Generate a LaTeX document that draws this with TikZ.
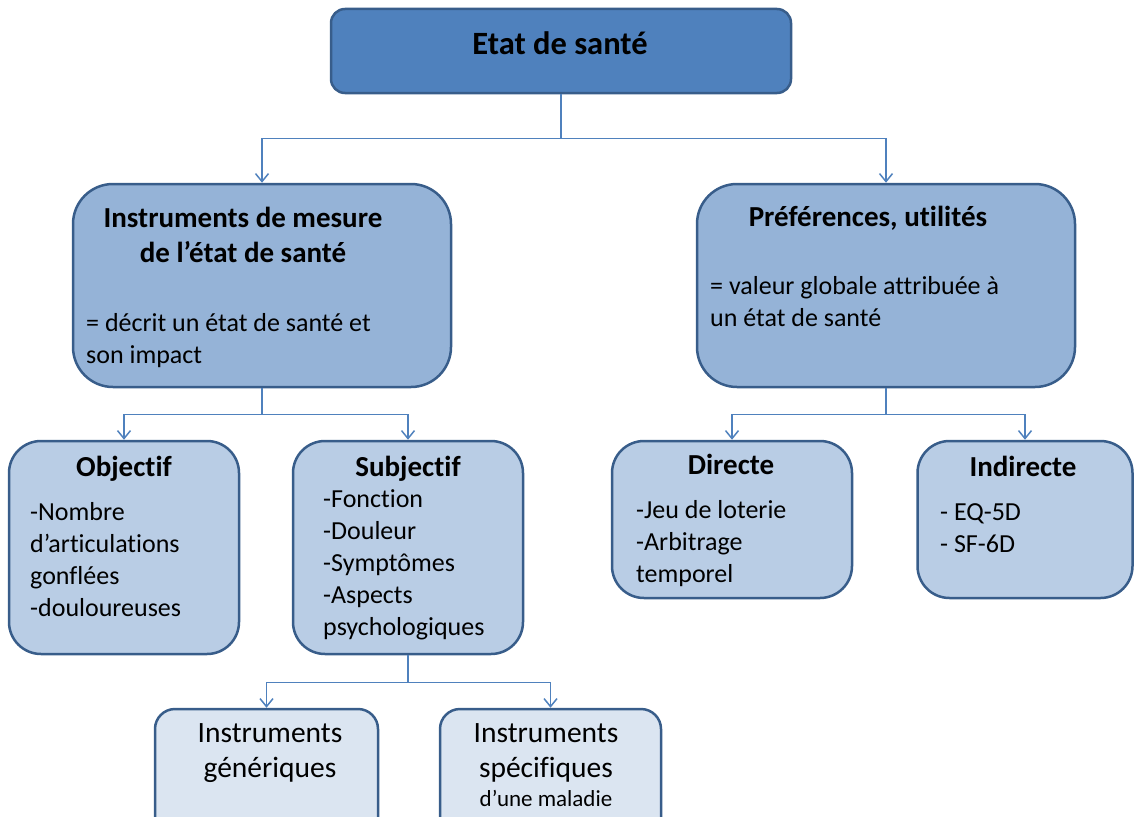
\documentclass[tikz,border=0pt]{standalone}
\usepackage{fontspec}
\setmainfont{Carlito}[Ligatures=NoCommon]
\usetikzlibrary{arrows.meta}

\definecolor{boxblue}{HTML}{4F81BD}
\definecolor{boxline}{HTML}{385D8A}
\definecolor{boxmid}{HTML}{95B3D7}
\definecolor{boxlight}{HTML}{B9CDE5}
\definecolor{boxpale}{HTML}{DBE5F1}

\tikzset{
	box/.style={draw=boxline, line width=2.5pt, inner sep=0pt},
	link/.style={draw=boxblue, line width=1.5pt, -{Straight Barb[length=8pt, width=13pt]}},
	title/.style={font=\bfseries\fontsize{29}{35}\selectfont, anchor=base, inner sep=0pt},
	head/.style={font=\bfseries\fontsize{29}{35}\selectfont, align=center, anchor=north, inner sep=0pt},
	body/.style={font=\fontsize{26}{32}\selectfont, align=left, anchor=north west, inner sep=0pt},
	lower/.style={font=\fontsize{29.5}{35}\selectfont, align=center, anchor=north, inner sep=0pt},
}

\begin{document}
\begin{tikzpicture}[x=1pt, y=-1pt]
	\useasboundingbox (0,0) rectangle (1134,816);
	\clip (0,0) rectangle (1134,816);

	%% Top box
	\node [box, fill=boxblue, rounded corners=14pt, minimum width=460pt, minimum height=84pt] (etat) at (561,51) {};
	\node [title, font=\bfseries\fontsize{32.5}{38}\selectfont] (t-etat) at (560,55) {Etat de santé};

	%% Second row
	\node [box, fill=boxmid, rounded corners=40pt, minimum width=378pt, minimum height=203pt] (mesure) at (262,285.5) {};
	\node [head] (t-mesure) at (243,202.5) {\strut Instruments de mesure\\de l’état de santé};
	\node [body] (d-mesure) at (86,308.6) {\strut= décrit un état de santé et\\son impact};

	\node [box, fill=boxmid, rounded corners=40pt, minimum width=378pt, minimum height=203pt] (pref) at (886,285.5) {};
	\node [title] (t-pref) at (868,226) {Préférences, utilités};
	\node [body] (d-pref) at (710,271.6) {\strut= valeur globale attribuée à\\un état de santé};

	%% Third row
	\node [box, fill=boxlight, rounded corners=32pt, minimum width=230pt, minimum height=213pt] (objectif) at (124,547.5) {};
	\node [title] (t-objectif) at (124,476) {Objectif};
	\node [body] (d-objectif) at (30,497.6) {\strut-Nombre\\d’articulations\\gonflées\\-douloureuses};

	\node [box, fill=boxlight, rounded corners=32pt, minimum width=230pt, minimum height=213pt] (subjectif) at (408,547.5) {};
	\node [title] (t-subjectif) at (408,476) {Subjectif};
	\node [body] (d-subjectif) at (323,484.6) {\strut-Fonction\\-Douleur\\-Symptômes\\-Aspects\\psychologiques};

	\node [box, fill=boxlight, rounded corners=32pt, minimum width=240pt, minimum height=157pt] (directe) at (732,519.5) {};
	\node [title] (t-directe) at (731,474) {Directe};
	\node [body] (d-directe) at (636,495.6) {\strut-Jeu de loterie\\-Arbitrage\\temporel};

	\node [box, fill=boxlight, rounded corners=32pt, minimum width=215pt, minimum height=157pt] (indirecte) at (1025,519.5) {};
	\node [title] (t-indirecte) at (1023,476) {Indirecte};
	\node [body] (d-indirecte) at (940,497.6) {\strut- EQ-5D\\- SF-6D};

	%% Bottom row
	\node [box, fill=boxpale, rounded corners=20pt, minimum width=223pt, minimum height=131pt] (generiques) at (266.5,774.5) {};
	\node [lower] (t-generiques) at (270,717.5) {\strut Instruments\\génériques};

	\node [box, fill=boxpale, rounded corners=20pt, minimum width=221pt, minimum height=131pt] (specifiques) at (550.5,774.5) {};
	\node [lower] (t-specifiques) at (546,717.5) {\strut Instruments\\spécifiques};
	\node [title, font=\fontsize{23}{26}\selectfont] (m-specifiques) at (546,806) {d’une maladie};

	%% Connectors
	\draw [link] (etat.south) -- ++(0,44) -| (mesure.north);
	\draw [link] (etat.south) -- ++(0,44) -| (pref.north);
	\draw [link] (mesure.south) -- ++(0,26) -| (objectif.north);
	\draw [link] (mesure.south) -- ++(0,26) -| (subjectif.north);
	\draw [link] (pref.south) -- ++(0,26) -| (directe.north);
	\draw [link] (pref.south) -- ++(0,26) -| (indirecte.north);
	\draw [link] (subjectif.south) -- ++(0,27) -| (generiques.north);
	\draw [link] (subjectif.south) -- ++(0,27) -| (specifiques.north);
\end{tikzpicture}
\end{document}
